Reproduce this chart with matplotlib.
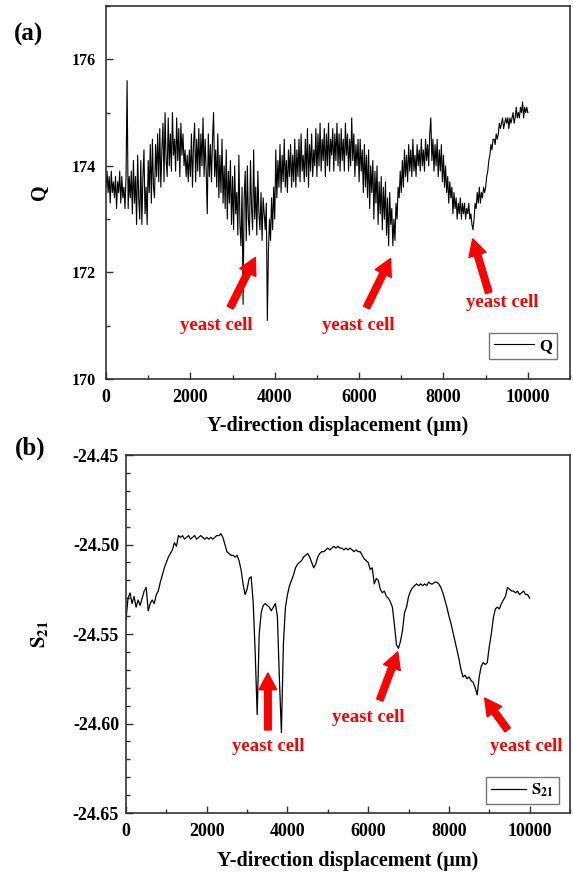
import numpy as np
import matplotlib
matplotlib.use("Agg")
import matplotlib.pyplot as plt
from matplotlib.ticker import MultipleLocator

plt.rcParams['font.family'] = ['Liberation Serif', 'DejaVu Serif']
plt.rcParams['font.weight'] = 'bold'
plt.rcParams['mathtext.fontset'] = 'stix'

# Scan steps along the Y direction (um)
q_step = 25
s_step = 50

# Quality factor Q sampled every 25 um from 0 to 10000 um (one row = 500 um)
q_values = [
    173.6, 173.9, 173.5, 173.8, 173.3, 173.9, 173.5, 173.7, 173.4, 173.8, 173.2, 173.7, 173.5, 173.9, 173.3, 173.8, 173.4, 173.6, 173.2, 173.8,
    175.6, 173.2, 173.8, 173.4, 173.9, 173.1, 174.1, 173.3, 173.8, 172.9, 174.2, 173.4, 173.0, 174.1, 172.9, 173.8, 174.3, 173.1, 173.6, 172.9,
    174.1, 173.5, 174.4, 173.3, 174.5, 173.6, 173.4, 174.4, 173.8, 174.6, 173.7, 174.7, 173.6, 174.3, 174.8, 173.7, 175.0, 174.1, 173.8, 174.9,
    174.0, 174.6, 173.9, 175.0, 174.2, 174.5, 173.9, 174.9, 174.1, 174.7, 173.8, 174.8, 174.2, 174.6, 174.0, 174.3, 173.8, 174.2, 173.7, 174.3,
    173.8, 174.6, 173.6, 174.4, 174.8, 173.7, 174.5, 173.9, 174.7, 173.8, 174.6, 174.0, 174.9, 173.8, 174.5, 173.9, 173.1, 174.6, 173.8, 174.4,
    173.7, 174.5, 175.0, 173.8, 174.3, 173.6, 174.6, 173.4, 174.2, 173.5, 174.5, 173.3, 174.0, 173.2, 174.3, 173.0, 173.9, 173.3, 174.1, 172.9,
    173.8, 172.8, 174.0, 173.1, 173.5, 172.7, 174.2, 172.9, 172.5, 173.6, 171.4, 173.4, 173.9, 172.6, 174.0, 173.0, 172.7, 174.1, 173.2, 172.8,
    174.3, 173.0, 173.6, 172.7, 173.9, 173.1, 172.8, 173.5, 172.6, 173.4, 173.1, 172.8, 173.3, 171.1, 172.4, 173.0, 172.6, 173.4, 172.8, 173.6,
    173.0, 174.3, 173.4, 174.1, 173.6, 174.4, 173.5, 174.2, 173.7, 174.5, 173.6, 174.1, 173.5, 174.3, 173.8, 174.4, 173.6, 174.2, 173.7, 174.5,
    173.6, 174.3, 173.8, 174.5, 173.7, 174.6, 173.9, 174.2, 173.7, 174.5, 173.8, 174.7, 173.6, 174.4, 173.9, 174.6, 173.8, 174.3, 174.0, 174.7,
    173.8, 174.6, 174.0, 174.8, 173.9, 174.5, 174.1, 174.7, 173.8, 174.6, 174.0, 174.8, 173.9, 174.5, 174.2, 174.7, 173.9, 174.6, 174.1, 174.8,
    174.0, 174.6, 173.9, 174.7, 174.1, 174.5, 173.9, 174.8, 174.2, 174.6, 173.9, 174.5, 174.0, 174.9, 174.1, 174.6, 173.8, 174.4, 174.0, 174.5,
    173.7, 174.5, 173.9, 174.3, 173.5, 174.4, 173.6, 174.2, 173.4, 174.3, 173.2, 174.0, 173.5, 174.1, 173.0, 173.9, 173.3, 174.0, 172.9, 173.7,
    173.1, 173.8, 172.8, 173.6, 173.0, 173.7, 172.7, 173.4, 172.5, 173.5, 172.9, 173.2, 172.5, 173.0, 172.6, 173.3, 173.0, 173.6, 173.4, 173.9,
    173.5, 174.1, 173.6, 174.3, 173.8, 174.2, 173.7, 174.4, 173.9, 174.3, 173.8, 174.5, 173.9, 174.2, 173.8, 174.4, 174.0, 174.3, 173.9, 174.5,
    174.0, 174.3, 173.9, 174.5, 174.1, 174.4, 174.0, 174.6, 174.9, 174.1, 174.5, 173.9, 174.4, 174.0, 174.5, 173.8, 174.3, 173.9, 174.4, 173.7,
    174.2, 173.6, 174.0, 173.5, 173.8, 173.3, 173.7, 173.4, 173.6, 173.1, 173.5, 173.2, 173.4, 173.0, 173.3, 173.1, 173.4, 173.0, 173.3, 173.1,
    173.3, 173.0, 173.2, 173.1, 173.3, 173.0, 173.1, 172.9, 172.8, 173.0, 173.3, 173.2, 173.5, 173.3, 173.6, 173.3, 173.5, 173.4, 173.6, 173.5,
    173.6, 173.8, 173.9, 174.1, 174.2, 174.4, 174.3, 174.5, 174.5, 174.4, 174.6, 174.5, 174.6, 174.8, 174.7, 174.8, 174.9, 174.7, 174.8, 174.9,
    174.8, 174.9, 174.7, 174.9, 174.8, 174.9, 175.0, 174.8, 174.9, 175.1, 174.9, 175.0, 174.9, 175.1, 175.0, 175.2, 174.9, 175.1, 175.0, 175.1,
    175.0,
]

# Transmission S21 (dB) sampled every 50 um from 0 to 10000 um
s21_values = [
    -24.542, -24.530, -24.527, -24.533, -24.529, -24.535, -24.531, -24.534, -24.530, -24.526,
    -24.524, -24.537, -24.533, -24.531, -24.533, -24.528, -24.526, -24.521, -24.517, -24.513,
    -24.510, -24.507, -24.505, -24.503, -24.499, -24.501, -24.495, -24.496, -24.495, -24.497,
    -24.496, -24.495, -24.497, -24.496, -24.495, -24.497, -24.496, -24.495, -24.496, -24.497,
    -24.496, -24.497, -24.496, -24.497, -24.496, -24.495, -24.495, -24.494, -24.496, -24.500,
    -24.504, -24.505, -24.506, -24.506, -24.507, -24.506, -24.509, -24.514, -24.522, -24.528,
    -24.525, -24.519, -24.518, -24.532, -24.560, -24.595, -24.550, -24.538, -24.534, -24.533,
    -24.534, -24.535, -24.537, -24.535, -24.533, -24.540, -24.575, -24.605, -24.555, -24.535,
    -24.528, -24.523, -24.520, -24.517, -24.513, -24.511, -24.510, -24.509, -24.507, -24.506,
    -24.505, -24.507, -24.510, -24.513, -24.511, -24.507, -24.505, -24.504, -24.504, -24.503,
    -24.502, -24.503, -24.502, -24.501, -24.502, -24.501, -24.502, -24.502, -24.503, -24.502,
    -24.503, -24.502, -24.503, -24.504, -24.503, -24.504, -24.504, -24.506, -24.508, -24.509,
    -24.510, -24.514, -24.513, -24.522, -24.519, -24.520, -24.525, -24.527, -24.526, -24.529,
    -24.530, -24.532, -24.535, -24.545, -24.556, -24.558, -24.554, -24.548, -24.538, -24.535,
    -24.529, -24.526, -24.524, -24.523, -24.522, -24.523, -24.522, -24.523, -24.522, -24.523,
    -24.521, -24.522, -24.522, -24.521, -24.521, -24.522, -24.524, -24.527, -24.531, -24.535,
    -24.540, -24.544, -24.549, -24.554, -24.559, -24.564, -24.570, -24.574, -24.573, -24.575,
    -24.574, -24.576, -24.577, -24.580, -24.584, -24.574, -24.568, -24.566, -24.567, -24.566,
    -24.557, -24.550, -24.541, -24.536, -24.535, -24.536, -24.533, -24.531, -24.529, -24.524,
    -24.525, -24.526, -24.526, -24.527, -24.526, -24.528, -24.527, -24.526, -24.528, -24.528,
    -24.530,
]

x_q = np.arange(len(q_values)) * q_step
x_s = np.arange(len(s21_values)) * s_step

q_ticks = [170, 172, 174, 176]
s_ticks = [-24.65, -24.60, -24.55, -24.50, -24.45]
x_ticks = [0, 2000, 4000, 6000, 8000, 10000]

# Arrow annotations: (text position, arrow tail, arrow head)
q_notes = [
    ((2613, 171.0), (2945, 171.34), (3539, 172.28)),
    ((5986, 171.0), (6176, 171.34), (6746, 172.26)),
    ((9406, 171.43), (9074, 171.62), (8694, 172.63)),
]
s_notes = [
    ((3515, -24.6126), (3515, -24.6036), (3515, -24.5718)),
    ((6015, -24.5964), (6287, -24.5869), (6733, -24.5600)),
    ((9926, -24.6126), (9455, -24.6036), (8886, -24.5858)),
]

spine_color = '#333333'

fig = plt.figure(figsize=(5.73, 8.73), dpi=100)
ax1 = fig.add_axes([0.185, 0.5659, 0.8098, 0.4272])
ax2 = fig.add_axes([0.2199, 0.0687, 0.7749, 0.4101])


def style_axes(ax, ypad, ysize):
    for sp in ax.spines.values():
        sp.set_color(spine_color)
        sp.set_linewidth(1.2)
    ax.tick_params(which='both', direction='in', top=False, right=False,
                   color=spine_color, width=1.0)
    ax.tick_params(which='major', length=5)
    ax.tick_params(which='minor', length=3)
    ax.tick_params(axis='x', pad=7, labelsize=13)
    ax.tick_params(axis='y', pad=ypad, labelsize=ysize)
    for lab in ax.get_xticklabels() + ax.get_yticklabels():
        lab.set_fontweight('bold')


def add_notes(ax, notes):
    for (tx, ty), tail, head in notes:
        ax.text(tx, ty, 'yeast cell', color='red', fontsize=13.5,
                fontweight='bold', ha='center', va='center')
        ax.annotate('', xy=head, xytext=tail,
                    arrowprops=dict(arrowstyle='simple,head_length=0.75,head_width=0.8,tail_width=0.3',
                                    color='red', mutation_scale=16, shrinkA=0, shrinkB=0))


# (a) quality factor
ax1.plot(x_q, q_values, color='black', lw=0.8, label='Q')
ax1.set_xlim(0, 11000)
ax1.set_ylim(170, 177)
ax1.set_xticks(x_ticks)
ax1.set_yticks(q_ticks)
ax1.xaxis.set_minor_locator(MultipleLocator(1000))
ax1.yaxis.set_minor_locator(MultipleLocator(1))
style_axes(ax1, 7, 11.5)
ax1.set_xlabel('Y-direction displacement (\u03bcm)', fontsize=14.5, fontweight='bold')
ax1.set_ylabel('Q', fontsize=14.5, fontweight='bold')
ax1.xaxis.set_label_coords(0.5, -0.100)
ax1.yaxis.set_label_coords(-0.122, 0.5)
add_notes(ax1, q_notes)
leg1 = ax1.legend(loc='lower right', bbox_to_anchor=(0.972, 0.054), borderaxespad=0,
                  fancybox=False, framealpha=1, edgecolor='#777777', handlelength=2.4,
                  prop={'weight': 'bold', 'size': 12}, borderpad=0.3, handletextpad=0.3)
leg1.get_frame().set_linewidth(1.0)

# (b) transmission coefficient
ax2.plot(x_s, s21_values, color='black', lw=0.9, label=r'$\mathbf{S_{21}}$')
ax2.set_xlim(0, 11000)
ax2.set_ylim(-24.65, -24.45)
ax2.set_xticks(x_ticks)
ax2.set_yticks(s_ticks)
ax2.set_yticklabels([f'{v:.2f}' for v in s_ticks])
ax2.xaxis.set_minor_locator(MultipleLocator(1000))
ax2.yaxis.set_minor_locator(MultipleLocator(0.01))
style_axes(ax2, 5, 13)
ax2.set_xlabel('Y-direction displacement (\u03bcm)', fontsize=14.5, fontweight='bold')
ax2.set_ylabel(r'$\mathbf{S_{21}}$', fontsize=15)
ax2.xaxis.set_label_coords(0.5, -0.105)
ax2.yaxis.set_label_coords(-0.172, 0.5)
add_notes(ax2, s_notes)
leg2 = ax2.legend(loc='lower right', bbox_to_anchor=(0.975, 0.025), borderaxespad=0,
                  fancybox=False, framealpha=1, edgecolor='#777777', handlelength=2.1,
                  prop={'weight': 'bold', 'size': 12}, borderpad=0.3, handletextpad=0.3)
leg2.get_frame().set_linewidth(1.0)

fig.text(0.024, 0.960, '(a)', fontsize=18, fontweight='bold', ha='left', va='center')
fig.text(0.026, 0.486, '(b)', fontsize=18, fontweight='bold', ha='left', va='center')

fig.savefig('out.png', dpi=100)
